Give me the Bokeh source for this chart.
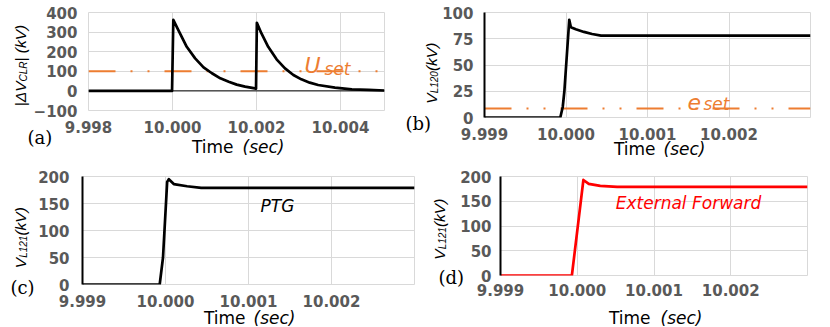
import math
from bokeh.plotting import figure
from bokeh.layouts import column, row
from bokeh.models import Label, Span, FixedTicker, Range1d, PrintfTickFormatter
from bokeh.embed import file_html
from bokeh.resources import INLINE

# ---------------- data ----------------
# (a) |dV_CLR| (kV)
time_a = [9.998, 9.99999, 10.00002, 10.00014, 10.00034, 10.00054, 10.00074, 10.00094,
          10.00114, 10.00134, 10.00153, 10.00173, 10.00193, 10.00199,
          10.00201, 10.00212, 10.00228, 10.00248, 10.00268, 10.00288, 10.00307,
          10.00327, 10.00347, 10.00387, 10.00427, 10.00467, 10.00505]
dv_clr = [0, 0, 362, 310, 225, 166, 120, 90, 64, 47, 32, 22, 14, 11,
          347, 293, 225, 161, 115, 81, 59, 42, 30, 17, 8, 5, 2]
u_set = 100

# (b) V_L120 (kV)
time_b = [9.999, 9.99993, 9.99996, 9.99998, 10.00004, 10.00006, 10.00012, 10.00022,
          10.00032, 10.00043, 10.003]
v_l120 = [0, 0, 10, 25, 93, 86, 84, 81.5, 79.5, 78, 78]
e_set = 8.5

# (c) V_L121 (kV), PTG
time_c = [9.999, 9.99993, 9.99997, 10.00002, 10.00004, 10.0001, 10.00026, 10.00043, 10.003]
v_l121_ptg = [0, 0, 50, 190, 195, 186, 182, 179, 179]

# (d) V_L121 (kV), External Forward
time_d = [9.999, 9.99993, 10.00008, 10.00015, 10.0003, 10.00052, 10.003]
v_l121_ext = [0, 0, 193, 185, 181, 179, 179]

xticks_a = [9.998, 10.000, 10.002, 10.004]
yticks_a = [-100, 0, 100, 200, 300, 400]
xticks_bcd = [9.999, 10.000, 10.001, 10.002]
yticks_b = [0, 25, 50, 75, 100]
yticks_cd = [0, 50, 100, 150, 200]

# ---------------- styling helpers ----------------
GRID = "#d9d9d9"
TICK_COLOR = "#595959"
ORANGE = "#ed7d31"
SPARE = 240   # room below each frame for the text annotations (overlapped away)

# Arial / Liberation Sans advance widths (em)
W = {'|': .26, 'Δ': .667, 'V': .667, ' ': .278, '(': .333, ')': .333, 'k': .5,
     'C': .722, 'L': .556, 'R': .722, '1': .556, '2': .556, '0': .556}


def tw(s, size):
    return sum(W.get(ch, .556) for ch in s) * size


def make_fig(xr, yr, frame, box, xticks, yticks, left_axis_color, left_axis_width,
             xstandoff, ystandoff):
    L, R, T, B = frame
    bx, by, bw, bh = box
    fig_h = (T - by) + (B - T) + SPARE
    p = figure(output_backend="svg", toolbar_location=None,
               frame_width=R - L, frame_height=B - T,
               min_border_left=L - bx, min_border_right=bx + bw - R,
               min_border_top=T - by, min_border_bottom=SPARE,
               x_range=Range1d(*xr), y_range=Range1d(*yr),
               margin=(0, 0, bh - fig_h, 0))
    p.background_fill_color = "white"
    p.border_fill_color = None
    p.outline_line_color = GRID
    p.outline_line_width = 1
    p.xaxis.ticker = FixedTicker(ticks=xticks)
    p.yaxis.ticker = FixedTicker(ticks=yticks)
    p.xgrid.ticker = FixedTicker(ticks=xticks)
    p.ygrid.ticker = FixedTicker(ticks=yticks)
    p.xaxis.formatter = PrintfTickFormatter(format="%.3f")
    p.grid.grid_line_color = GRID
    p.grid.grid_line_width = 1
    for ax in (p.xaxis, p.yaxis):
        ax.major_tick_out = 0
        ax.major_tick_in = 0
        ax.minor_tick_out = 0
        ax.minor_tick_in = 0
        ax.major_label_text_font = "DejaVu Sans"
        ax.major_label_text_font_style = "bold"
        ax.major_label_text_font_size = "15px"
        ax.major_label_text_color = TICK_COLOR
    p.xaxis.axis_line_color = None
    p.xaxis.major_label_standoff = xstandoff
    p.yaxis.major_label_standoff = ystandoff
    p.yaxis.axis_line_color = left_axis_color
    p.yaxis.axis_line_width = left_axis_width

    def conv(px, py):
        x = xr[0] + (px - L) / (R - L) * (xr[1] - xr[0])
        y = yr[0] + (B - py) / (B - T) * (yr[1] - yr[0])
        return x, y
    return p, conv


def lab(p, conv, px, py, text, size, color="black", style="normal", font="DejaVu Sans",
        align="left", baseline="middle", angle=0.0, place=None):
    x, y = conv(px, py)
    lbl = Label(x=x, y=y, text=text, text_font=font, text_font_size=f"{size}px",
                text_color=color, text_font_style=style, text_align=align,
                text_baseline=baseline, angle=angle)
    if place is None:
        p.add_layout(lbl)
    else:
        p.add_layout(lbl, place)


def ylabel(p, conv, xbase, ycenter, parts):
    total = sum(tw(t, s) for t, s, sub in parts)
    y = ycenter + total / 2
    for t, s, sub in parts:
        lab(p, conv, xbase + (2.5 if sub else 0), y, t, s, style="italic",
            font="Liberation Sans", baseline="alphabetic", angle=math.pi / 2, place="below")
        y -= tw(t, s)


def time_label(p, conv, right_of_time, left_of_sec, py):
    lab(p, conv, right_of_time, py, "Time", 17, align="right", place="below")
    lab(p, conv, left_of_sec, py, "(sec)", 17, style="italic", place="below")


# ---------------- panel (a) ----------------
pa, ca = make_fig((9.998, 10.00505), (-100, 400), (88, 384, 12, 110), (0, 0, 400, 160),
                  xticks_a, yticks_a, None, 1, 10, 11)
pa.add_layout(Span(location=0, dimension="width", line_color="black", line_width=1,
                   level="underlay"))
pa.add_layout(Span(location=u_set, dimension="width", line_color=ORANGE, line_width=2,
                   line_dash="27 15 2 15 2 15", level="underlay"))
pa.line(time_a, dv_clr, line_color="black", line_width=2.7, line_join="round")
lab(pa, ca, 304, 65, "U", 22, color=ORANGE, style="italic", baseline="alphabetic")
lab(pa, ca, 324, 68, "set", 17, color=ORANGE, style="italic", baseline="alphabetic")
ylabel(pa, ca, 20, 65, [("|ΔV", 15.5, False), ("CLR", 10, True), ("| (kV)", 15.5, False)])
lab(pa, ca, 27, 137, "(a)", 18, font="DejaVu Serif", place="below")
time_label(pa, ca, 233, 242, 146)

# ---------------- panel (b) ----------------
pb, cb = make_fig((9.999, 10.003), (0, 100), (484, 810, 12, 117), (400, 0, 426, 160),
                  xticks_bcd, yticks_b, "black", 2, 10, 11)
pb.add_layout(Span(location=e_set, dimension="width", line_color=ORANGE, line_width=2,
                   line_dash="27 15 2 15 2 15", level="underlay"))
pb.line(time_b, v_l120, line_color="black", line_width=2.7, line_join="round")
lab(pb, cb, 687, 101, "e", 22, color=ORANGE, style="italic", baseline="alphabetic")
lab(pb, cb, 703, 103, "set", 17, color=ORANGE, style="italic", baseline="alphabetic")
ylabel(pb, cb, 431, 70.5, [("V", 15.5, False), ("L120", 10, True), (" (kV)", 15.5, False)])
lab(pb, cb, 405, 123, "(b)", 18, font="DejaVu Serif", place="below")
time_label(pb, cb, 655, 663, 148)

# ---------------- panel (c) ----------------
pc, cc = make_fig((9.999, 10.003), (0, 200), (82, 414, 174, 282), (0, 160, 420, 166),
                  xticks_bcd, yticks_cd, "black", 2, 10, 13)
pc.line(time_c, v_l121_ptg, line_color="black", line_width=2.7, line_join="round")
lab(pc, cc, 277, 203, "PTG", 17, style="italic", align="center")
ylabel(pc, cc, 20, 233, [("V", 15.5, False), ("L121", 10, True), (" (kV)", 15.5, False)])
lab(pc, cc, 10, 285, "(c)", 18, font="DejaVu Serif", place="below")
time_label(pc, cc, 245, 253, 315)

# ---------------- panel (d) ----------------
pd_, cd = make_fig((9.999, 10.003), (0, 200), (500, 807, 176, 275), (420, 160, 406, 166),
                   xticks_bcd, yticks_cd, "black", 2, 8, 9)
pd_.line(time_d, v_l121_ext, line_color="#ff0000", line_width=2.7, line_join="round")
lab(pd_, cd, 688, 202, "External Forward", 17, color="#ff0000", style="italic",
    align="center")
ylabel(pd_, cd, 439, 226.5, [("V", 15.5, False), ("L121", 10, True), (" (kV)", 15.5, False)])
lab(pd_, cd, 438, 277, "(d)", 18, font="DejaVu Serif", place="below")
time_label(pd_, cd, 650, 660, 317)

layout = column(row(pa, pb), row(pc, pd_))
open("out.html", "w").write(file_html(layout, INLINE))
